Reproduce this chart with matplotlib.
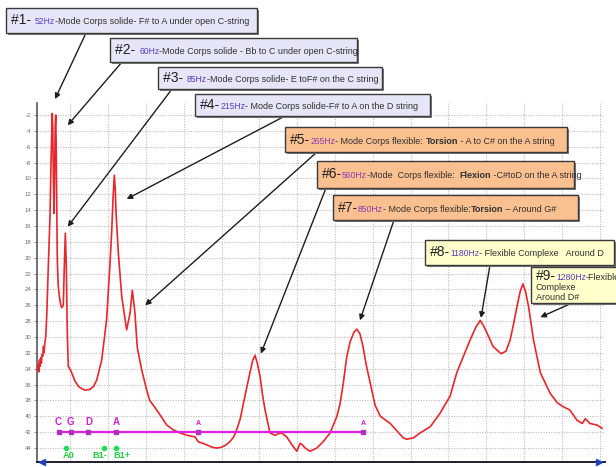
import matplotlib
matplotlib.use("Agg")
import matplotlib.pyplot as plt
from matplotlib.patches import Rectangle
from matplotlib.offsetbox import TextArea, HPacker, AnnotationBbox

# ---------------- DATA ----------------
freq_hz = [13.8, 15.5, 17, 18.5, 20, 21.7, 23.5, 25.5, 27, 29, 30.5, 32, 35, 37.6,
           41.8, 46.3, 49, 50.8, 52.2, 53.5, 55, 56.9, 58.5, 60, 61.4, 62.5, 64,
           65.6, 68, 70.9, 74, 77.2, 81.5, 84.1, 86.8, 89.4, 92, 94.7, 97, 101,
           106, 112, 121, 130, 139, 152, 162, 170, 183, 196, 205, 209.6, 213,
           216.4, 219, 221, 227, 236, 249, 258, 264, 271, 277, 289, 302, 310,
           324, 340, 355, 372, 390, 410, 430, 438, 450, 461, 475, 487, 500, 512,
           522, 532, 540, 550, 558, 566, 575, 582, 588.6, 595, 602, 608, 615,
           628, 641.5, 650, 659, 672.5, 686, 699, 707.7, 714, 720.9, 734, 752,
           768.5, 787, 805, 813, 822, 831, 840, 850, 857.7, 866, 874, 883, 893,
           906, 920, 946, 965, 980, 990, 1008, 1025, 1052, 1078, 1090, 1104,
           1122, 1140, 1157, 1172, 1184, 1193, 1202, 1218, 1239, 1252, 1263,
           1272, 1281, 1290, 1297, 1304, 1312, 1325, 1343, 1369, 1388, 1404,
           1421, 1440, 1454, 1462, 1474, 1493, 1506]
level_db = [-34.2, -33.4, -34.4, -32.9, -33.7, -32.6, -33.3, -32.2, -32.4, -31.2,
            -32.0, -31.0, -30.0, -27.4, -21.1, -14.8, -8.0, -4.3, -1.8, -3.5,
            -9.0, -14.4, -9.5, -3.5, -2.0, -5.5, -12.7, -20.3, -23.5, -24.8,
            -25.8, -26.3, -26.0, -21.1, -16.9, -21.0, -29.5, -33.7, -33.9, -34.2,
            -34.8, -35.5, -36.2, -36.5, -36.7, -36.6, -36.2, -35.4, -32.9, -27.8,
            -20.7, -16.5, -12.5, -9.6, -11.5, -14.4, -19.4, -24.9, -29.1, -27.0,
            -24.1, -27.0, -31.3, -34.2, -36.7, -38.0, -38.9, -40.0, -41.1, -41.7,
            -42.1, -42.4, -42.6, -43.2, -43.4, -43.6, -43.9, -44.0, -43.9, -43.6,
            -43.2, -42.6, -41.7, -40.2, -38.3, -36.5, -34.5, -33.0, -32.3, -33.4,
            -35.0, -37.2, -39.2, -42.1, -42.4, -42.2, -42.1, -42.6, -43.6, -44.4,
            -43.4, -43.6, -44.0, -44.4, -44.0, -43.2, -42.1, -40.0, -38.5, -35.8,
            -32.5, -30.6, -29.4, -29.0, -29.6, -31.2, -33.6, -35.8, -38.6, -40.0,
            -40.9, -41.9, -42.7, -42.9, -42.7, -42.1, -41.3, -39.6, -38.6, -37.5,
            -34.5, -32.4, -30.4, -28.8, -27.9, -28.6, -29.5, -31.2, -32.1, -31.8,
            -30.4, -28.4, -26.2, -24.2, -23.3, -24.3, -26.2, -30.4, -34.5, -37.1,
            -38.3, -38.8, -39.2, -40.5, -40.9, -40.3, -40.9, -41.1, -41.5]

string_notes = ["C", "G", "D", "A", "A", "A"]
string_note_hz = [69, 101, 148, 221, 438, 874]
note_line_db = -42
wolf_labels = ["A0", "B1-", "B1+"]
wolf_hz = [89, 190, 221]
wolf_db = -44

ytick_values = list(range(-2, -46, -2))
ytick_labels = ["-2", "-4", "-6", "-8"] + [str(v) for v in range(10, 46, 2)]
xtick_values = list(range(100, 1600, 100))

# mode annotations
mode_ids = ["#1- ", "#2- ", "#3- ", "#4-", "#5-", "#6-", "#7-", "#8-", "#9-"]
mode_hz = ["52Hz", "60Hz", "85Hz", "215Hz", "265Hz", "560Hz", "850Hz", "1180Hz", "1280Hz"]
mode_desc = [
    [("-Mode Corps solide- F# to A under open C-string", False)],
    [("-Mode Corps solide - Bb to C under open C-string", False)],
    [("-Mode Corps solide- E toF# on the C string", False)],
    [("- Mode Corps solide-F# to A on the D string", False)],
    [("- Mode Corps flexible: ", False), ("Torsion", True), (" - A to C# on the A string", False)],
    [("-Mode  Corps flexible:  ", False), ("Flexion", True), (" -C#toD on the A string", False)],
    [("- Mode Corps flexible:", False), ("Torsion", True), (" \u2013 Around G#", False)],
    [("- Flexible Complexe   Around D", False)],
    [("-Flexible", False)],
]
mode9_extra_lines = ["Complexe", "Around D#"]
arrow_target_hz = [59.5, 93, 93, 249, 298, 604, 866, 1186, 1343]
arrow_target_db = [0.0, -3.3, -16.1, -12.6, -26.0, -32.1, -27.9, -27.6, -27.5]

# ---------------- LAYOUT ----------------
W, H = 616, 467
FONT = "Liberation Sans"
fig = plt.figure(figsize=(W / 100, H / 100), dpi=100)
fig.patch.set_facecolor("white")

ax_l, ax_r, ax_t, ax_b = 37, 605, 103, 462
ax = fig.add_axes([ax_l / W, 1 - ax_b / H, (ax_r - ax_l) / W, (ax_b - ax_t) / H])
ax.set_xlim(11.9, 1514)
ax.set_ylim(-45.76, -0.49)

ax.set_xticks(xtick_values)
ax.set_xticklabels([])
ax.tick_params(axis="x", length=0)
ax.set_yticks(ytick_values)
ax.set_yticklabels(ytick_labels, fontsize=4.3, color="#6e6e6e", family=FONT)
ax.tick_params(axis="y", length=2, width=0.6, color="#808080", pad=2)
ax.grid(True, color="#bdbdbd", linestyle=(0, (1, 1.3)), linewidth=0.8)
ax.set_axisbelow(True)
for s in ("top", "right"):
    ax.spines[s].set_visible(False)
ax.spines["left"].set_color("#5a5a5a")
ax.spines["left"].set_linewidth(1.2)
ax.spines["bottom"].set_color("#1e1e2e")
ax.spines["bottom"].set_linewidth(1.4)
ax.plot([0.008], [0], marker="<", color="#2040c0", ms=5, transform=ax.transAxes, clip_on=False, zorder=6)
ax.plot([0.99], [0], marker=">", color="#2040c0", ms=5, transform=ax.transAxes, clip_on=False, zorder=6)

# main response curve
ax.plot(freq_hz, level_db, color="#e8262b", linewidth=1.2, zorder=3)

# open-string notes
ax.plot([string_note_hz[0], string_note_hz[-1]], [note_line_db, note_line_db],
        color="#e020e0", linewidth=1.6, zorder=4)
ax.plot(string_note_hz, [note_line_db] * len(string_note_hz), "s", color="#b030c0", ms=2.2, zorder=5)
for i, (n, f) in enumerate(zip(string_notes, string_note_hz)):
    small = i >= 4
    ax.text(f, note_line_db + (1.1 if small else 1.3), n, color="#d020d8",
            fontsize=5 if small else 7, fontweight="bold", family=FONT,
            ha="center", va="center", zorder=5)

# wolf / body notes
ax.plot(wolf_hz, [wolf_db] * len(wolf_hz), "o", color="#22dd55", ms=3, zorder=5)
wolf_dx = [2, -3, 4]  # label offsets in points
for lab, f, dx in zip(wolf_labels, wolf_hz, wolf_dx):
    ax.annotate(lab, (f, wolf_db - 0.95), xytext=(dx, 0), textcoords="offset points",
                color="#22cc44", fontsize=6.6, fontweight="bold", family=FONT,
                ha="center", va="center", zorder=5)

# annotation boxes (pixel layout: x0, y0, x1, y1 from top-left)
boxes = [(6, 8, 257, 33), (110, 38, 357, 62), (158, 67, 382, 89), (195, 94, 430, 116),
         (285, 127, 567, 152), (317, 161, 574, 188), (333, 195, 578, 220),
         (425, 240, 614, 265), (531, 267, 630, 303)]
face = ["#e6e6f8"] * 4 + ["#fbc08f"] * 3 + ["#ffffcc"] * 2
hz_col = ["#5a3cc0"] * 4 + ["#8a3ab0"] * 3 + ["#5a3cc0"] * 2
arrow_start = [(86, 33), (122, 62), (172, 89), (285, 116), (317, 152), (326, 188),
               (394, 220), (490, 265), (572, 303)]


def fx(x):
    return x / W


def fy(y):
    return 1 - y / H


for i, (x0, y0, x1, y1) in enumerate(boxes):
    shadow = Rectangle((fx(x0 + 2), fy(y1 + 2)), (x1 - x0) / W, (y1 - y0) / H,
                       transform=fig.transFigure, facecolor="#7a7a7a", edgecolor="none", zorder=8)
    rect = Rectangle((fx(x0), fy(y1)), (x1 - x0) / W, (y1 - y0) / H,
                     transform=fig.transFigure, facecolor=face[i], edgecolor="#3a3a3a",
                     linewidth=1.0, zorder=9)
    fig.add_artist(shadow)
    fig.add_artist(rect)

    parts = [TextArea(mode_ids[i], textprops=dict(color="#202020", fontsize=10, family=FONT)),
             TextArea(mode_hz[i], textprops=dict(color=hz_col[i], fontsize=6.2, family=FONT))]
    for t, b in mode_desc[i]:
        parts.append(TextArea(t, textprops=dict(color="#303030", fontsize=6.5, family=FONT,
                                                fontweight="bold" if b else "normal")))
    pack = HPacker(children=parts, align="baseline", pad=0, sep=0)
    ty = (y0 + y1) / 2 if i < 8 else y0 + 9
    ab = AnnotationBbox(pack, (x0 + 5, H - ty), xycoords="figure pixels",
                        box_alignment=(0, 0.5), frameon=False, pad=0, zorder=10,
                        annotation_clip=False)
    fig.add_artist(ab)

    sx, sy = arrow_start[i]
    ax.annotate("", xy=(arrow_target_hz[i], arrow_target_db[i]), xycoords="data",
                xytext=(sx, H - sy), textcoords="figure pixels",
                arrowprops=dict(arrowstyle="-|>", color="#1e1e1e", lw=1.0,
                                mutation_scale=8, shrinkA=0, shrinkB=0),
                annotation_clip=False, zorder=7)

for k, line in enumerate(mode9_extra_lines):
    fig.text(fx(536), fy(287 + 10 * k), line, color="#303030", fontsize=6.5,
             family=FONT, va="center", ha="left", zorder=10)

fig.savefig("out.png", dpi=100)
